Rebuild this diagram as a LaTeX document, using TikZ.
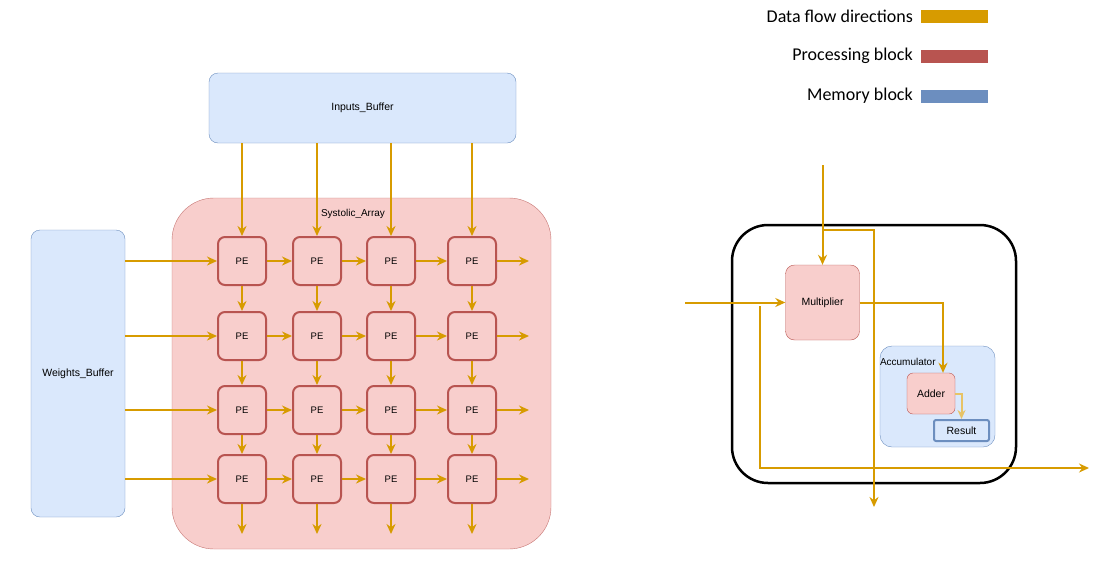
\documentclass[tikz,border=0pt]{standalone}
\usepackage{fontspec}
\usepackage{tikz}
\usetikzlibrary{positioning,arrows.meta,calc}
\newfontfamily\lblfont{Liberation Sans}
\newfontfamily\legfont{Carlito}
\definecolor{flowc}{RGB}{215,155,0}
\definecolor{procfill}{RGB}{248,206,204}
\definecolor{procdraw}{RGB}{184,84,80}
\definecolor{memfill}{RGB}{218,232,252}
\definecolor{memdraw}{RGB}{108,142,191}
\tikzset{
  membuf/.style  = {rectangle, rounded corners=9pt, fill=memfill, draw=memdraw,
                    thin, font=\lblfont\fontsize{10.5}{12}\selectfont},
  procbox/.style = {rectangle, rounded corners=9pt, fill=procfill, draw=procdraw,
                    thin, font=\lblfont\fontsize{10.5}{12}\selectfont},
  penode/.style  = {rectangle, minimum size=48pt, rounded corners=7pt, fill=procfill,
                    draw=procdraw, line width=2pt, font=\lblfont\fontsize{9.5}{11}\selectfont},
  lbl/.style     = {font=\lblfont\fontsize{10}{12}\selectfont, inner sep=0pt},
  flow/.style    = {-{Stealth[length=10pt,width=9pt]}, line width=2pt, flowc},
  resflow/.style = {-{Stealth[length=9pt,width=8pt]}, line width=2pt, flowc!60},
  legtxt/.style  = {font=\legfont\fontsize{18}{21}\selectfont, anchor=east, inner sep=0pt},
  legbar/.style  = {rectangle, minimum width=67pt, minimum height=13pt, anchor=west,
                    inner sep=0pt}
}
\begin{document}
\begin{tikzpicture}[x=1pt, y=-1pt]
  \useasboundingbox (0,0) rectangle (1119,560);
  % Legend
  \node[legtxt] (lflow) at (913,16) {Data flow directions};
  \node[legtxt] (lproc) at (913,56) {Processing block};
  \node[legtxt] (lmem)  at (913,96) {Memory block};
  \node[legbar, fill=flowc]    (bflow) at (921,16) {};
  \node[legbar, fill=procdraw] (bproc) at (921,56) {};
  \node[legbar, fill=memdraw]  (bmem)  at (921,96) {};
  % Buffers and array
  \node[membuf, minimum width=307pt, minimum height=70pt] (inbuf) at (362.5,108) {Inputs\_Buffer};
  \node[membuf, minimum width=94pt, minimum height=287pt] (wbuf) at (78,373.5) {Weights\_Buffer};
  \node[procbox, rounded corners=42pt, minimum width=379pt, minimum height=351pt,
        draw=procdraw!80] (sysarr) at (361.5,373.5) {};
  \node[lbl] (syslbl) at (353,214) {Systolic\_Array};
  % PE grid
  \foreach \c/\x in {1/242,2/317,3/391,4/472}
    \foreach \r/\y in {1/261,2/336,3/410,4/479}
      \node[penode] (pe-\r-\c) at (\x,\y) {PE};
  \foreach \c in {1,...,4} {
    \coordinate (outb-\c) at ($(pe-4-\c.south)+(0,30)$);
    \draw[flow] (inbuf.south -| pe-1-\c) -- (pe-1-\c.north);
    \draw[flow] (pe-4-\c.south) -- (outb-\c);
  }
  \foreach \r in {1,...,4} {
    \coordinate (outr-\r) at ($(pe-\r-4.east)+(32,0)$);
    \draw[flow] (wbuf.east |- pe-\r-1) -- (pe-\r-1.west);
    \draw[flow] (pe-\r-4.east) -- (outr-\r);
  }
  \foreach \r [evaluate=\r as \n using int(\r+1)] in {1,2,3}
    \foreach \c in {1,...,4}
      \draw[flow] (pe-\r-\c.south) -- (pe-\n-\c.north);
  \foreach \c [evaluate=\c as \n using int(\c+1)] in {1,2,3}
    \foreach \r in {1,...,4}
      \draw[flow] (pe-\r-\c.east) -- (pe-\r-\n.west);
  % Single PE detail
  \draw[line width=2.5pt, rounded corners=36pt] (732,225) rectangle (1016,483);
  \node[procbox, minimum width=74pt, minimum height=75pt] (mult) at (822.5,302.5) {Multiplier};
  \node[membuf, minimum width=115pt, minimum height=101pt, rounded corners=12pt] (acc) at (937.5,396.5) {};
  \node[lbl, anchor=west] (acclbl) at ([yshift=-16pt]acc.north west) {Accumulator};
  \node[procbox, minimum width=48pt, minimum height=41pt, rounded corners=6pt] (adder) at (931,393.5) {Adder};
  \node[membuf, minimum width=55pt, minimum height=21pt, rounded corners=2pt,
        line width=2pt] (result) at (961.5,430.5) {Result};
  \coordinate (topin)  at (822.5,165);
  \coordinate (split)  at (822.5,230);
  \coordinate (passdn) at (874,507);
  \coordinate (leftin) at (685,302.5);
  \coordinate (accin)  at (759.5,306);
  \coordinate (accout) at (1089,468);
  \draw[flow] (topin) -- (mult.north);
  \draw[flow] (split) -| (passdn);
  \draw[flow] (leftin) -- (mult.west);
  \draw[flow] (accin) |- (accout);
  \draw[flow] (mult.east) -| ([xshift=12pt]adder.north);
  \draw[resflow] (adder.east) -| (result.north);
\end{tikzpicture}
\end{document}
